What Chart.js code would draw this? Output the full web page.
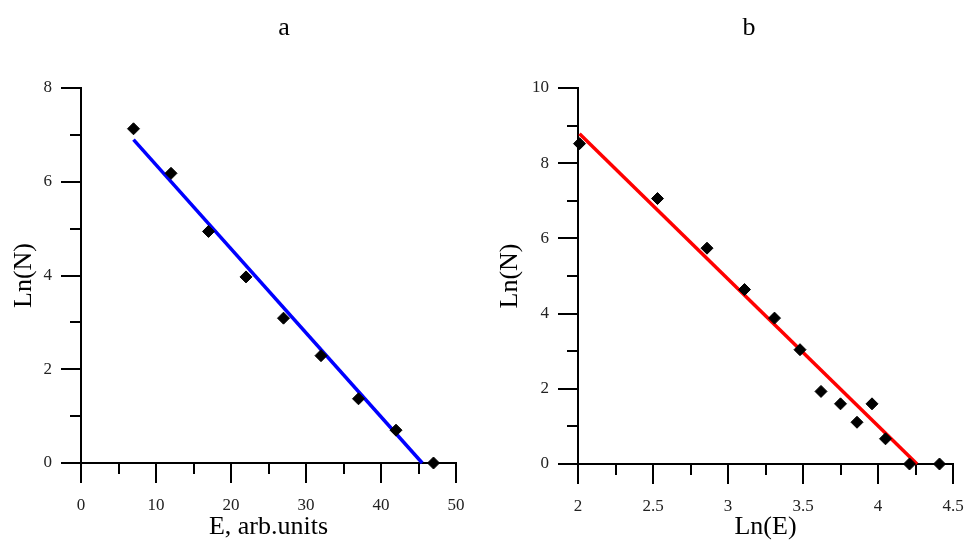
<!DOCTYPE html>
<html>
<head>
<meta charset="utf-8">
<title>Ln(N) vs E</title>
<script src="https://cdn.jsdelivr.net/npm/chart.js@4.4.1/dist/chart.umd.min.js"></script>
<style>
  html, body { margin: 0; padding: 0; background: #fff; }
  #wrap { position: relative; width: 966px; height: 540px; overflow: hidden; }
  #wrap canvas { position: absolute; top: 0; }
  .panel-title { position: absolute; top: 14px; width: 60px; text-align: center;
    font: 26px/26px 'Liberation Serif', 'Times New Roman', serif; color: #000; }
</style>
</head>
<body>
<div id="wrap">
  <canvas id="chartA" width="483" height="540" style="left:0"></canvas>
  <canvas id="chartB" width="510" height="540" style="left:483px"></canvas>
  <div class="panel-title" style="left:254px">a</div>
  <div class="panel-title" style="left:719px">b</div>
</div>
<script>
// panel a: Ln(N) against E
const energyA = [7, 12, 17, 22, 27, 32, 37, 42, 47]
const lnNA = [7.13, 6.18, 4.94, 3.97, 3.09, 2.29, 1.37, 0.70, 0]
const fitXA = [7, 45.5]
const fitYA = [6.9, 0]
const ticksXA = [0, 10, 20, 30, 40, 50]
const ticksYA = [0, 2, 4, 6, 8]

// panel b: Ln(N) against Ln(E)
const lnEB = [2.01, 2.53, 2.86, 3.11, 3.31, 3.48, 3.62, 3.75, 3.86, 3.96, 4.05, 4.21, 4.41]
const lnNB = [8.52, 7.06, 5.74, 4.64, 3.88, 3.04, 1.93, 1.60, 1.11, 1.60, 0.67, 0, 0]
const fitXB = [2.01, 4.26]
const fitYB = [8.78, 0]
const ticksXB = [2, 2.5, 3, 3.5, 4, 4.5]
const ticksYB = [0, 2, 4, 6, 8, 10]

;(() => {
  'use strict'

  const serif = "'Liberation Serif', 'Times New Roman', serif"

  // short ticks half way between the labelled ones
  const minorTicks = {
    id: 'minorTicks',
    beforeDatasetsDraw (chart) {
      const { ctx, chartArea } = chart
      ctx.save()
      ctx.strokeStyle = '#000'
      ctx.lineWidth = 2
      ctx.beginPath()
      for (const scale of [chart.scales.x, chart.scales.y]) {
        const t = scale.ticks
        for (let i = 1; i < t.length; i++) {
          const p = Math.round(scale.getPixelForValue((t[i - 1].value + t[i].value) / 2))
          if (scale.isHorizontal()) {
            ctx.moveTo(p, chartArea.bottom)
            ctx.lineTo(p, chartArea.bottom + 11)
          } else {
            ctx.moveTo(chartArea.left, p)
            ctx.lineTo(chartArea.left - 11, p)
          }
        }
      }
      ctx.stroke()
      ctx.restore()
    }
  }

  const axis = (min, max, list, title, extra) => ({
    type: 'linear',
    min,
    max,
    afterBuildTicks: s => { s.ticks = list.map(v => ({ value: v })) },
    afterFit: extra.fit,
    grid: { drawOnChartArea: false, drawTicks: true, tickLength: 20, lineWidth: 2, tickWidth: 2, tickColor: '#000' },
    border: { display: true, color: '#000', width: 2 },
    ticks: {
      autoSkip: false,
      maxRotation: 0,
      padding: extra.pad,
      color: '#222',
      font: { family: serif, size: 17 },
      callback: v => String(v)
    },
    title: { display: true, text: title, color: '#000', padding: extra.titlePad, font: { family: serif, size: 26, lineHeight: 1 } }
  })

  function makePanel (id, p) {
    return new Chart(document.getElementById(id), {
      type: 'scatter',
      data: {
        datasets: [{
          data: p.xs.map((x, i) => ({ x, y: p.ys[i] })),
          pointStyle: 'rectRot',
          pointRadius: 6,
          pointBorderWidth: 1,
          backgroundColor: '#000',
          borderColor: '#000',
          order: 0,
          clip: false
        }, {
          data: p.fx.map((x, i) => ({ x, y: p.fy[i] })),
          showLine: true,
          borderColor: p.color,
          borderWidth: 3.5,
          pointRadius: 0,
          order: 1,
          clip: false
        }]
      },
      options: {
        responsive: false,
        animation: false,
        events: [],
        layout: { padding: { top: 88, right: p.padRight, bottom: 0, left: 0 } },
        plugins: { legend: { display: false }, tooltip: { enabled: false } },
        scales: {
          x: axis(p.xMin, p.xMax, p.xTicks, p.xTitle, { pad: 12, titlePad: 0, fit: s => { s.height = p.xHeight } }),
          y: axis(p.yMin, p.yMax, p.yTicks, 'Ln(N)', { pad: 9, titlePad: p.yTitlePad, fit: s => { s.width = p.yWidth } })
        }
      },
      plugins: [minorTicks]
    })
  }

  makePanel('chartA', {
    xs: energyA, ys: lnNA, fx: fitXA, fy: fitYA, color: '#0000ff',
    xMin: 0, xMax: 50, xTicks: ticksXA, xTitle: 'E, arb.units',
    yMin: 0, yMax: 8, yTicks: ticksYA,
    padRight: 27, xHeight: 77, yWidth: 81, yTitlePad: 11
  })

  makePanel('chartB', {
    xs: lnEB, ys: lnNB, fx: fitXB, fy: fitYB, color: '#ff0000',
    xMin: 2, xMax: 4.5, xTicks: ticksXB, xTitle: 'Ln(E)',
    yMin: 0, yMax: 10, yTicks: ticksYB,
    padRight: 40, xHeight: 76, yWidth: 95, yTitlePad: 14
  })
})()
</script>
</body>
</html>
